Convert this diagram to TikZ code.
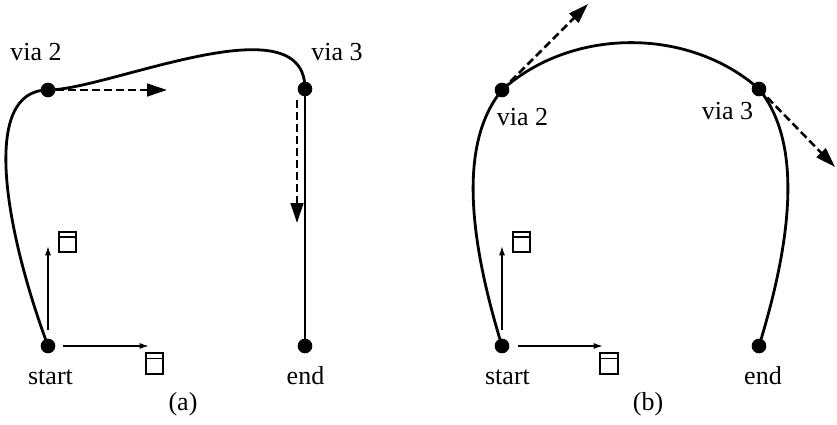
\documentclass[tikz,border=0pt]{standalone}
\usepackage{fontspec}
\setmainfont{Liberation Serif}
\newfontfamily\lblfont{Liberation Serif}
\usetikzlibrary{arrows.meta,backgrounds}
\begin{document}
\begin{tikzpicture}[x=0.75pt,y=-0.75pt,
  dot/.style={circle,fill=black,inner sep=0pt,minimum size=11pt},
  curve/.style={line width=2.1pt},
  straight/.style={line width=1.6pt},
  axis/.style={line width=1.1pt,-{Latex[length=7pt,width=4.5pt]}},
  tang/.style={line width=1.9pt,dash pattern=on 6pt off 3pt,-{Triangle[length=15pt,width=9.5pt]}},
  lbl/.style={anchor=base,font=\lblfont\fontsize{19.5}{23}\selectfont,inner sep=0pt},
  glyph/.style={draw,line width=1.3pt,minimum width=13pt,minimum height=15.5pt,inner sep=0pt,
    path picture={\draw[line width=1.3pt] ([yshift=-4pt]path picture bounding box.north west) -- ([yshift=-4pt]path picture bounding box.north east);}}
]
\useasboundingbox (0,0) rectangle (837,424);

% ---------- panel (a) ----------
\node[dot] (as)  at (48,346) {};
\node[dot] (av2) at (48,90) {};
\node[dot] (av3) at (305,89) {};
\node[dot] (ae)  at (305,346) {};

\node[lbl] (lav2) at (36,61) {via 2};
\node[lbl] (lav3) at (337,61) {via 3};
\node[lbl] (las)  at (50.5,384) {start};
\node[lbl] (lae)  at (305.5,384) {end};
\node[lbl] (lacap) at (183,410) {(a)};

\node[glyph] (agx) at (154.5,363.5) {};
\node[glyph] (agy) at (67.5,242) {};

\begin{scope}[on background layer]
\draw[curve] (as.center) .. controls (5,230) and (-20,90) .. (av2.center)
  .. controls (108,90) and (305,0) .. (av3.center);
\draw[straight] (av3.center) -- (ae.center);
\end{scope}

\coordinate (axs) at (63,346);
\coordinate (axe) at (149,346);
\coordinate (ays) at (48,330);
\coordinate (aye) at (48,246);
\draw[axis] (axs) -- (axe);
\draw[axis] (ays) -- (aye);

\coordinate (at2s) at (56,90);
\coordinate (at2e) at (167,90);
\coordinate (at3s) at (297,100);
\coordinate (at3e) at (297,223);
\draw[tang] (at2s) -- (at2e);
\draw[tang] (at3s) -- (at3e);

% ---------- panel (b) ----------
\node[dot] (bs)  at (502,346) {};
\node[dot] (bv2) at (502,90) {};
\node[dot] (bv3) at (759,89) {};
\node[dot] (be)  at (759,346) {};

\node[lbl] (lbv2) at (522.5,126) {via 2};
\node[lbl] (lbv3) at (727.5,120) {via 3};
\node[lbl] (lbs)  at (507.5,384) {start};
\node[lbl] (lbe)  at (763,384) {end};
\node[lbl] (lbcap) at (648,410) {(b)};

\node[glyph] (bgx) at (609,363.5) {};
\node[glyph] (bgy) at (521.5,242) {};

\begin{scope}[on background layer]
\draw[curve] (bs.center) .. controls (462,216) and (465,135) .. (bv2.center)
  .. controls (572,27) and (689,27) .. (bv3.center)
  .. controls (796,135) and (799,216) .. (be.center);
\end{scope}

\coordinate (bxs) at (518,346);
\coordinate (bxe) at (603,346);
\coordinate (bys) at (502,330);
\coordinate (bye) at (502,246);
\draw[axis] (bxs) -- (bxe);
\draw[axis] (bys) -- (bye);

\coordinate (bt2e) at (588,4);
\coordinate (bt3e) at (835,167);
\draw[tang] (bv2.center) -- (bt2e);
\draw[tang] (bv3.center) -- (bt3e);
\end{tikzpicture}
\end{document}
